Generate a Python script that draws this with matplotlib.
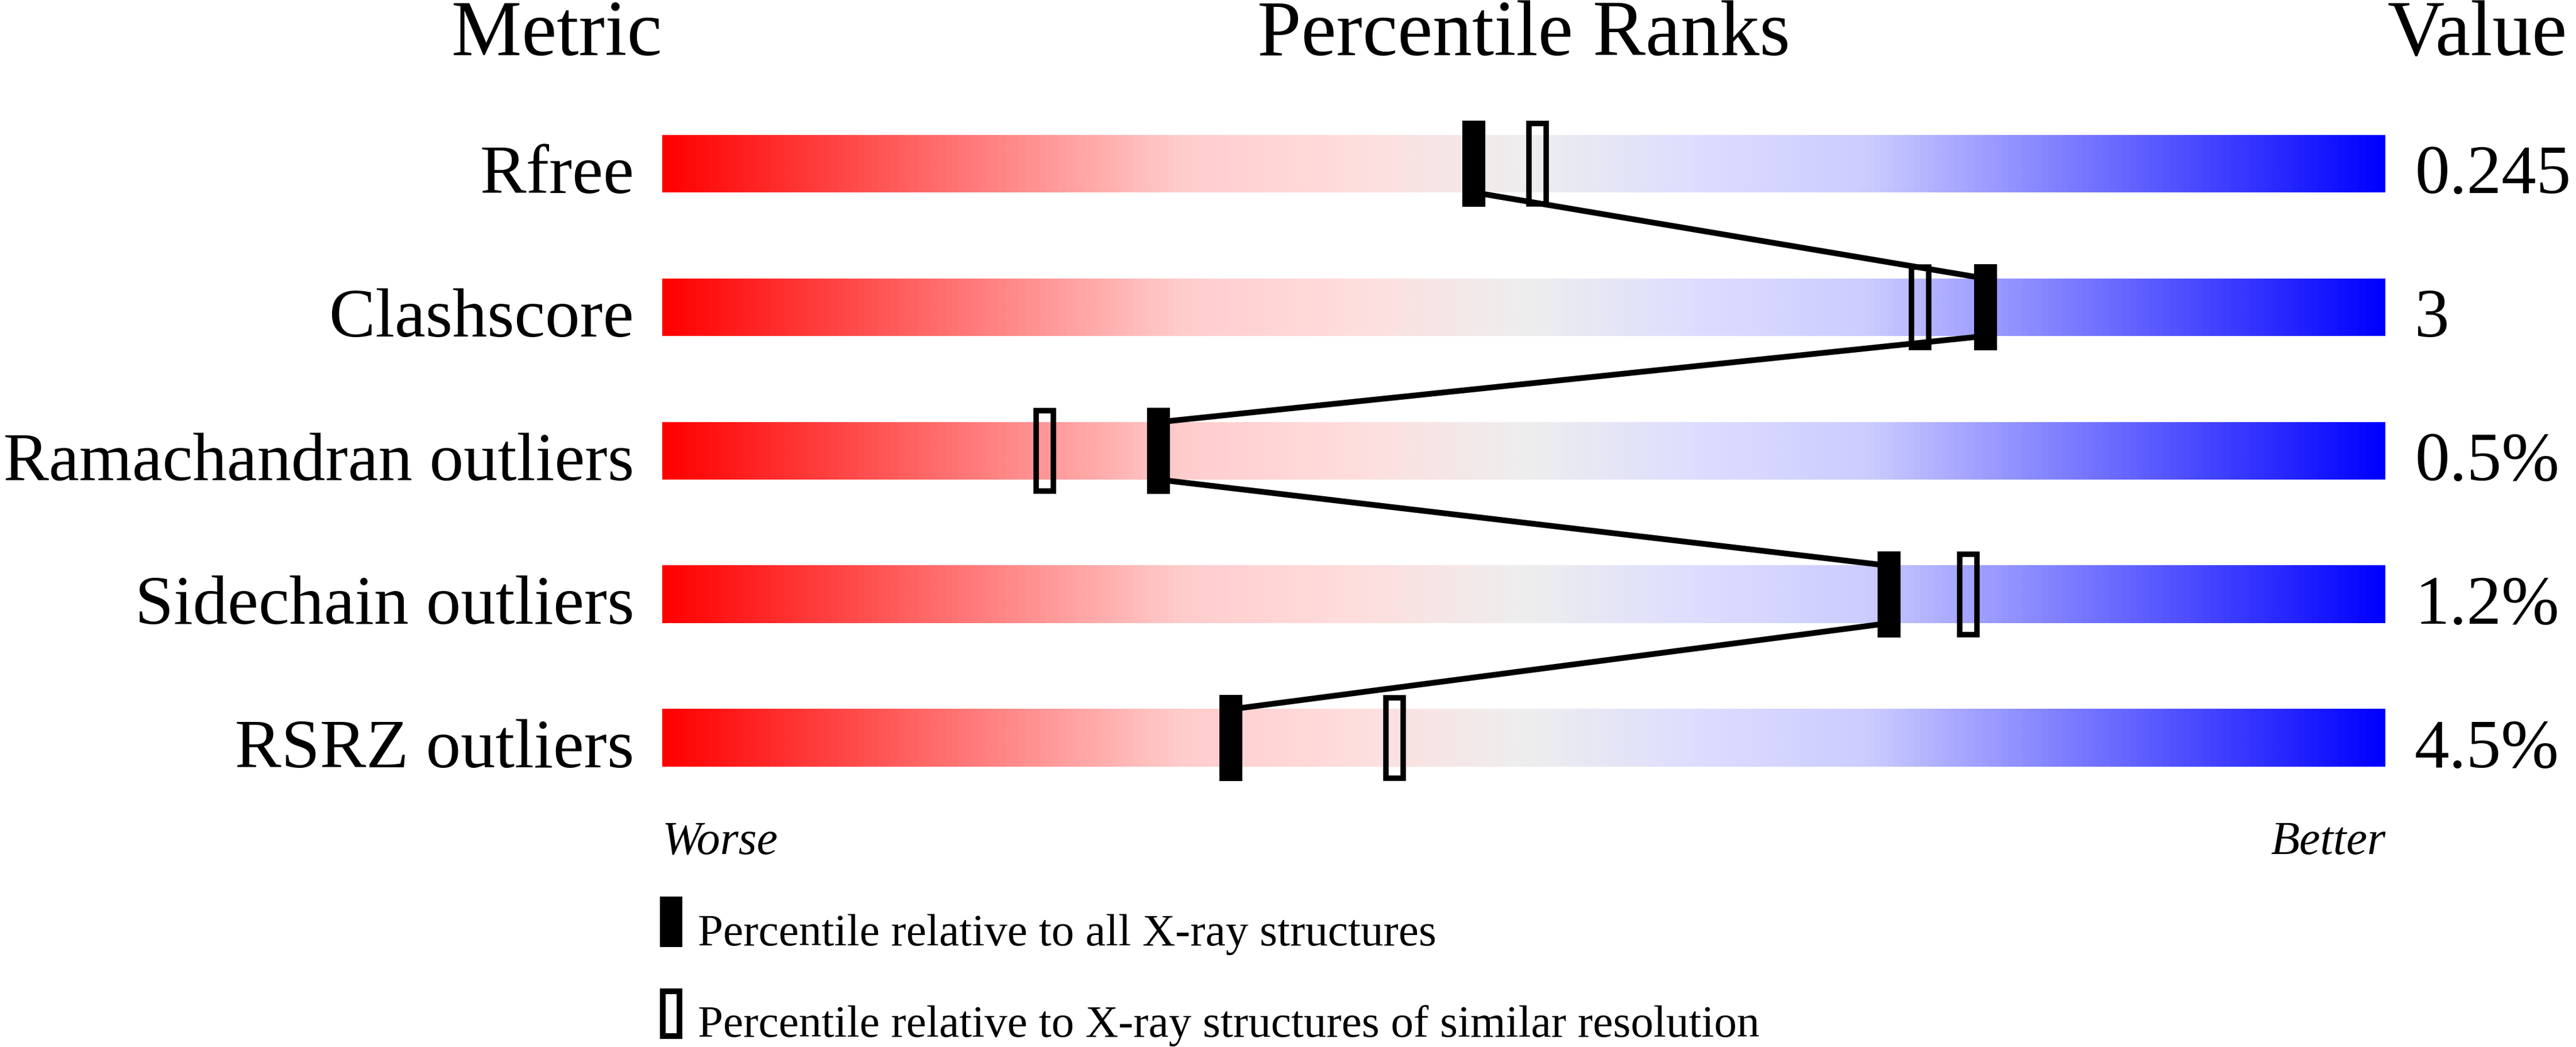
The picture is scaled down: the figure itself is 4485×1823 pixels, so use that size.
import numpy as np
import matplotlib
matplotlib.use("Agg")
import matplotlib.pyplot as plt
from matplotlib.colors import LinearSegmentedColormap
from matplotlib.patches import Rectangle
from matplotlib.font_manager import FontProperties

# ---- data ----
metrics = ["Rfree", "Clashscore", "Ramachandran outliers", "Sidechain outliers", "RSRZ outliers"]
values = ["0.245", "3", "0.5%", "1.2%", "4.5%"]
pct_all = [47.1, 76.8, 28.8, 71.2, 33.0]       # percentile relative to all X-ray structures
pct_similar = [50.8, 73.0, 22.2, 75.8, 42.5]   # percentile relative to similar resolution
legend_labels = ["Percentile relative to all X-ray structures",
                 "Percentile relative to X-ray structures of similar resolution"]

W, H = 4485, 1824
DPI = 100
FONT = ["Liberation Serif", "DejaVu Serif"]
plt.rcParams["font.family"] = FONT

fig = plt.figure(figsize=(W / DPI, H / DPI), dpi=DPI)
renderer = fig.canvas.get_renderer()

def px_lw(px):
    return px * 72.0 / DPI

def fit(t, xmin=6, xmax=W - 2):
    """shrink a text so it stays inside the figure"""
    bb = t.get_window_extent(renderer)
    size = t.get_fontsize()
    if bb.x0 < xmin:
        size *= (bb.x1 - xmin) / bb.width
    if bb.x1 > xmax:
        size = min(size, t.get_fontsize() * (xmax - bb.x0) / bb.width)
    t.set_fontsize(size)
    return t

# bar axes: x = percentile 0..100, y = row index
bx0, bx1 = 1153, 4153
by0, by1 = 161, 1411
ax = fig.add_axes([bx0 / W, 1 - by1 / H, (bx1 - bx0) / W, (by1 - by0) / H])
ax.set_xlim(0, 100)
ax.set_ylim(len(metrics) - 0.5, -0.5)
ax.axis("off")

cmap = LinearSegmentedColormap.from_list("slider", [
    (0.0, "#ff0000"), (0.3, "#ffcccc"), (0.4, "#ffdddd"), (0.5, "#eeeeee"),
    (0.6, "#ddddff"), (0.7, "#ccccff"), (1.0, "#0000ff")])
grad = np.linspace(0, 1, 1024).reshape(1, -1)

bar_h = 0.4      # rows
mark_h = 0.6     # rows
mark_w = 40 / 30.0   # percentile units (40 px)
hollow_lw_px = 9.5
px_x = 100.0 / (bx1 - bx0)      # percentile per pixel
px_y = 1.0 / 250.0              # rows per pixel

for i, (m, v) in enumerate(zip(metrics, values)):
    ax.imshow(grad, cmap=cmap, aspect="auto", interpolation="bilinear",
              extent=(0, 100, i + bar_h / 2, i - bar_h / 2), zorder=1)
    fit(ax.text(-49 * px_x, i + bar_h / 2, m, ha="right", va="baseline",
                fontsize=87, family=FONT, clip_on=False))
    fit(ax.text(100 + 51 * px_x, i + bar_h / 2, v, ha="left", va="baseline",
                fontsize=87, family=FONT, clip_on=False))

# connecting line between solid markers
for i in range(len(metrics) - 1):
    ax.plot([pct_all[i], pct_all[i + 1]], [i + bar_h / 2, i + 1 - bar_h / 2],
            color="black", lw=px_lw(10), solid_capstyle="butt", zorder=2, clip_on=False)

for i in range(len(metrics)):
    ax.add_patch(Rectangle((pct_all[i] - mark_w / 2, i - mark_h / 2), mark_w, mark_h,
                           facecolor="black", edgecolor="none", zorder=4, clip_on=False))
    dx = hollow_lw_px / 2 * px_x
    dy = hollow_lw_px / 2 * px_y
    ax.add_patch(Rectangle((pct_similar[i] - mark_w / 2 + dx, i - mark_h / 2 + dy),
                           mark_w - 2 * dx, mark_h - 2 * dy,
                           facecolor="none", edgecolor="black", lw=px_lw(hollow_lw_px),
                           zorder=3, clip_on=False))

# overlay axes in pixel coordinates for decorations
ov = fig.add_axes([0, 0, 1, 1])
ov.set_xlim(0, W)
ov.set_ylim(H, 0)
ov.axis("off")
ov.patch.set_alpha(0)

ov.text(bx0, 96, "Metric", ha="right", va="baseline", fontsize=99, family=FONT)
ov.text((bx0 + bx1) / 2, 96, "Percentile Ranks", ha="center", va="baseline", fontsize=99, family=FONT)
fit(ov.text(bx1 + 3, 96, "Value", ha="left", va="baseline", fontsize=99, family=FONT))

ov.text(bx0, 1487, "Worse", ha="left", va="baseline", fontsize=59, family=FONT, style="italic")
ov.text(bx1, 1487, "Better", ha="right", va="baseline", fontsize=59, family=FONT, style="italic")

# legend
ov.add_patch(Rectangle((1149, 1562), 39, 88, facecolor="black", edgecolor="none"))
ov.text(1215, 1646, legend_labels[0], ha="left", va="baseline", fontsize=57, family=FONT)
lw = 10
ov.add_patch(Rectangle((1149 + lw / 2, 1722 + lw / 2), 39 - lw, 88 - lw,
                       facecolor="none", edgecolor="black", lw=px_lw(lw)))
ov.text(1215, 1805, legend_labels[1], ha="left", va="baseline", fontsize=57, family=FONT)

fig.savefig("out.png", dpi=DPI, facecolor="white")
